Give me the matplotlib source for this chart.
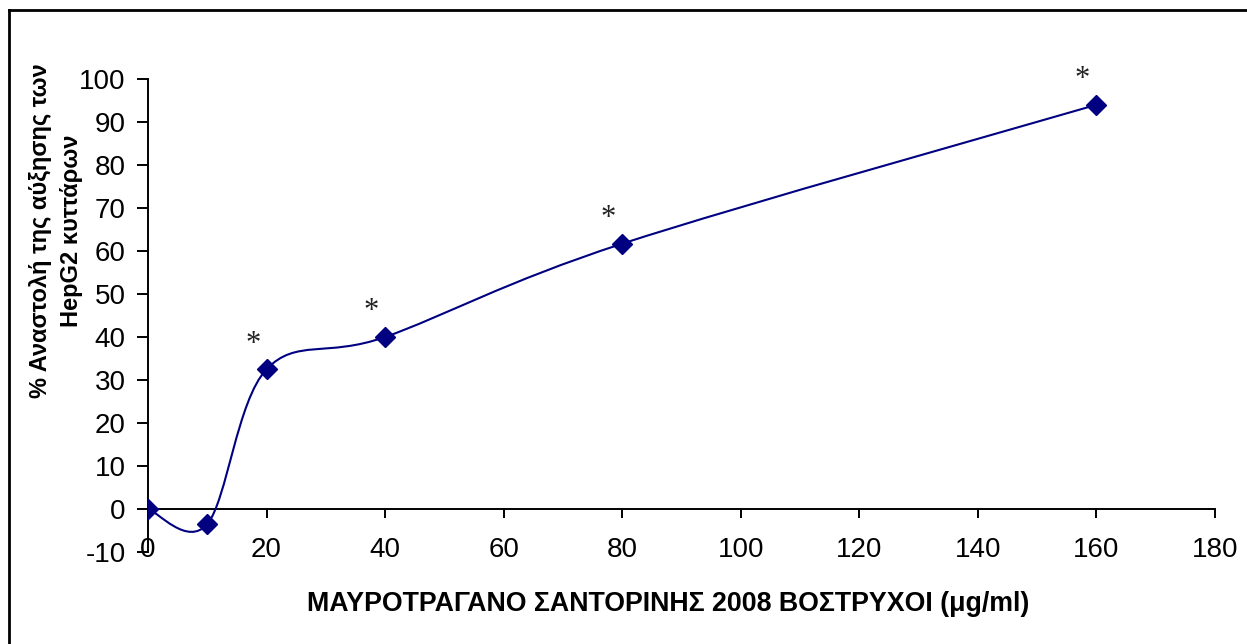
"""Ανασταλτική δράση εκχυλίσματος σε κύτταρα HepG2 (καμπύλη δόσης)."""
import matplotlib
matplotlib.use("Agg")
import matplotlib.pyplot as plt
import numpy as np
from matplotlib.lines import Line2D
from matplotlib.patches import PathPatch
from matplotlib.path import Path

# συγκεντρώσεις (μg/ml) και % αναστολή
conc = [0, 10, 20, 40, 80, 160]
inhibition = [0, -3.5, 32.5, 40, 61.7, 94]
significant = [False, False, True, True, True, True]

x_ticks = [0, 20, 40, 60, 80, 100, 120, 140, 160, 180]
y_ticks = [-10, 0, 10, 20, 30, 40, 50, 60, 70, 80, 90, 100]

xlabel = "ΜΑΥΡΟΤΡΑΓΑΝΟ ΣΑΝΤΟΡΙΝΗΣ 2008 ΒΟΣΤΡΥΧΟΙ (μg/ml)"
ylabel = "% Αναστολή της αύξησης των\nHepG2 κυττάρων"

NAVY = "#000080"
plt.rcParams["font.family"] = ["Liberation Sans", "DejaVu Sans"]
plt.rcParams["axes.unicode_minus"] = False


def smooth_path(xs, ys):
    """Εξομαλυμένη γραμμή τύπου Excel (Catmull-Rom σε Bezier)."""
    pts = np.column_stack([xs, ys]).astype(float)
    padded = np.vstack([pts[0], pts, pts[-1]])
    verts, codes = [pts[0]], [Path.MOVETO]
    for i in range(len(pts) - 1):
        p0, p1, p2, p3 = padded[i], padded[i + 1], padded[i + 2], padded[i + 3]
        verts += [p1 + (p2 - p0) / 6, p2 - (p3 - p1) / 6, p2]
        codes += [Path.CURVE4] * 3
    return Path(verts, codes)


W, H = 1247, 644
fig = plt.figure(figsize=(W / 100, H / 100), dpi=100)
ax = fig.add_axes([148 / W, 1 - 552 / H, (1215 - 148) / W, (552 - 79) / H])

ax.add_patch(PathPatch(smooth_path(conc, inhibition), facecolor="none",
                       edgecolor=NAVY, lw=1.5, zorder=3))
ax.plot(conc, inhibition, ls="none", marker="D", ms=10, color=NAVY, zorder=4)

# αστερίσκοι στατιστικής σημαντικότητας
for x, y, sig in zip(conc, inhibition, significant):
    if sig:
        ax.annotate("*", (x, y), xytext=(-10, 18), textcoords="offset points",
                    ha="center", va="center", fontsize=22,
                    family="Liberation Serif", color="#222222")

ax.set_xlim(0, 180)
ax.set_ylim(-10, 100)
ax.set_xticks(x_ticks)
ax.set_yticks(y_ticks)

for side in ("top", "right"):
    ax.spines[side].set_visible(False)
ax.spines["bottom"].set_position(("data", 0))
for side in ("left", "bottom"):
    ax.spines[side].set_linewidth(1.4)

ax.tick_params(axis="y", direction="out", length=8, width=1.4, pad=8, labelsize=20)
ax.tick_params(axis="x", direction="out", length=6.5, width=1.4, pad=14, labelsize=20)

fig.text(668 / W, 1 - 604 / H, xlabel, ha="center", va="center",
         fontsize=19.3, fontweight="bold")
fig.text(56 / W, 1 - 231 / H, ylabel, ha="center", va="center", rotation=90,
         fontsize=17, fontweight="bold", multialignment="center", linespacing=1.45)

# πλαίσιο γραφήματος (πάνω και αριστερά)
fig.add_artist(Line2D([9 / W, 1], [1 - 10 / H, 1 - 10 / H], color="black", lw=2,
                      transform=fig.transFigure))
fig.add_artist(Line2D([9 / W, 9 / W], [0, 1 - 10 / H], color="black", lw=2,
                      transform=fig.transFigure))

fig.savefig("out.png", dpi=100)
